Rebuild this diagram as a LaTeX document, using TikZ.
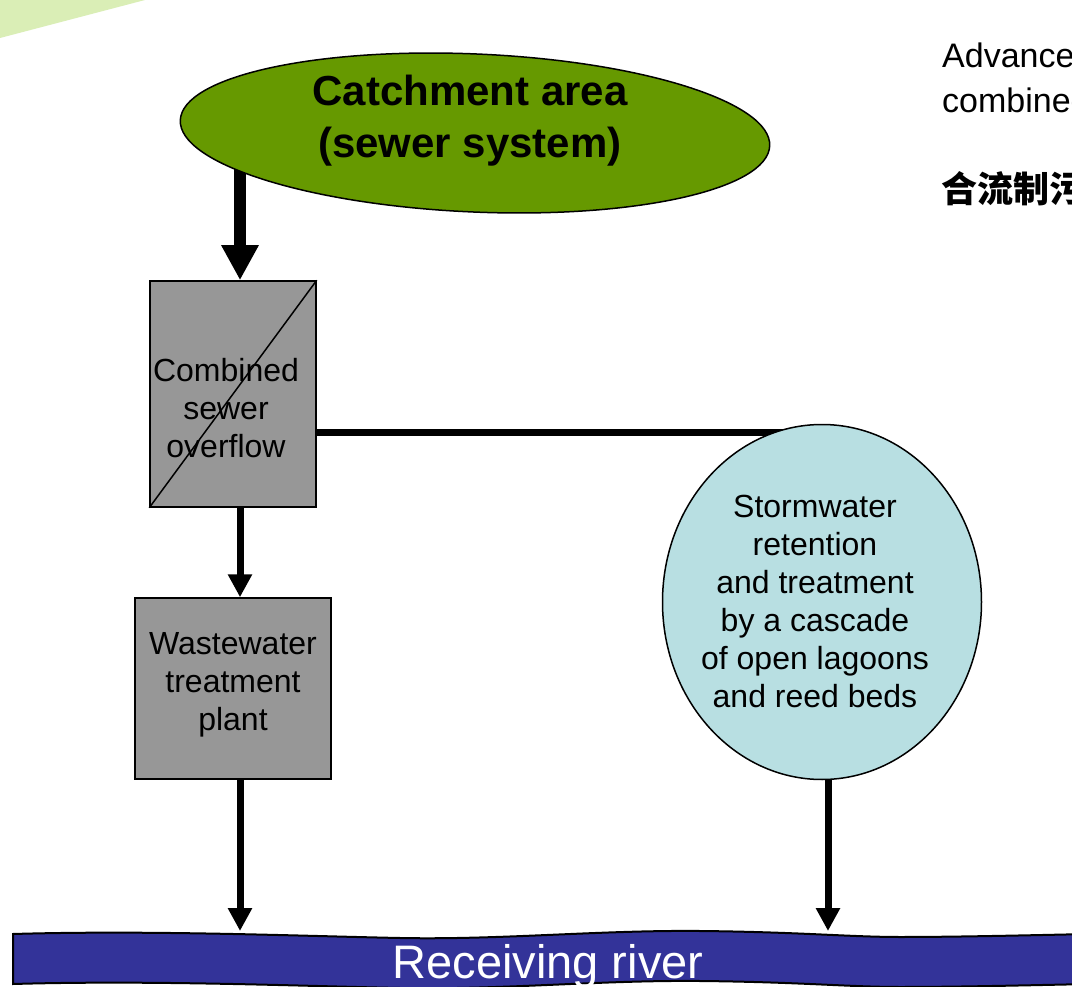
\documentclass[tikz,border=0pt]{standalone}
\usepackage{fontspec}
\setmainfont{Liberation Sans}
\newfontfamily\cjk{Noto Sans CJK SC}
\usetikzlibrary{arrows.meta,shapes.geometric}
\pgfdeclarelayer{bg}
\pgfsetlayers{bg,main}
\definecolor{catgreen}{HTML}{669900}
\definecolor{paleg}{HTML}{DAEEB6}
\definecolor{boxgray}{HTML}{979797}
\definecolor{stormblue}{HTML}{B8DFE2}
\definecolor{riverblue}{HTML}{333399}
\begin{document}
\begin{tikzpicture}[x=1pt,y=-1pt,
  graybox/.style={draw=black,line width=1.5pt,fill=boxgray,inner sep=0pt},
  lbl/.style={align=center,inner sep=0pt,font=\fontsize{32}{38}\selectfont},
  thinarrow/.style={line width=7pt,-{Triangle[width=23pt,length=23pt]}},
  bigarrow/.style={line width=12pt,-{Triangle[width=35pt,length=35pt]}},
  flowline/.style={line width=7pt}]
\clip (0,0) rectangle (1072,987);
\begin{pgfonlayer}{bg}
\fill[white] (0,0) rectangle (1072,987);
% pale green corner
\fill[paleg] (0,0) -- (145,0) -- (0,38) -- cycle;
\end{pgfonlayer}
% catchment ellipse
\node[ellipse,draw=black,line width=1.5pt,fill=catgreen,minimum width=590pt,minimum height=158pt,inner sep=0pt,rotate=-2.5] (cat) at (475,133) {};
\node[align=center,inner sep=0pt,font=\fontsize{42}{52}\selectfont\bfseries] (cattext) at (470,121) {Catchment area\\(sewer system)};
% combined sewer overflow box
\node[graybox,minimum width=166pt,minimum height=226pt] (cso) at (233,394) {};
\draw[line width=1.5pt] (cso.south west) -- (cso.north east);
\node[lbl] (csotext) at (226,408) {Combined\\sewer\\overflow};
% wastewater treatment plant
\node[graybox,minimum width=196pt,minimum height=181pt] (wwtp) at (233,688.5) {};
\node[lbl] (wwtptext) at (233,685) {Wastewater\\treatment\\plant};
% stormwater ellipse
\node[ellipse,draw=black,line width=1.5pt,fill=stormblue,minimum width=319pt,minimum height=355pt,inner sep=0pt] (storm) at (822,602) {};
\node[lbl] (stormtext) at (815,601) {Stormwater\\retention\\and treatment\\by a cascade\\of open lagoons\\and reed beds};
% river
\filldraw[fill=riverblue,draw=black,line width=2pt]
  (13,934) .. controls (150,930) and (300,936) .. (400,938)
  .. controls (500,940) and (600,930) .. (700,931)
  .. controls (800,932) and (850,937) .. (900,937)
  .. controls (960,937) and (1040,935) .. (1090,934)
  -- (1090,984)
  .. controls (1040,985) and (960,987) .. (900,987)
  .. controls (850,987) and (800,982) .. (700,981)
  .. controls (600,980) and (500,990) .. (400,988)
  .. controls (300,986) and (150,980) .. (13,984) -- cycle;
\node[anchor=base,inner sep=0pt,text=white,font=\fontsize{47}{56}\selectfont] (rivertext) at (548,978) {Receiving river};
% helper coordinates
\coordinate (ax) at (240,0);
\coordinate (bx) at (828,0);
\coordinate (hl) at (783,432);
\coordinate (r1) at (240,931);
\coordinate (r2) at (828,931);
% connectors
\begin{pgfonlayer}{bg}
\draw[bigarrow] (ax |- cat.center) -- (cso.north -| ax);
\draw[flowline] (cso.east |- hl) -- (hl);
\end{pgfonlayer}
\draw[thinarrow] (cso.south -| ax) -- (wwtp.north -| ax);
\draw[thinarrow] (wwtp.south -| ax) -- (r1);
\draw[thinarrow] (storm.south -| bx) -- (r2);
% top-right text
\node[anchor=base west,inner sep=0pt,align=left,font=\fontsize{34}{45}\selectfont] (adv) at (942,113) {Advanced\\combined};
\node[anchor=west,inner sep=0pt,font=\fontsize{36}{42}\selectfont\cjk\bfseries] (cn) at (941,189) {合流制污};
\end{tikzpicture}
\end{document}
